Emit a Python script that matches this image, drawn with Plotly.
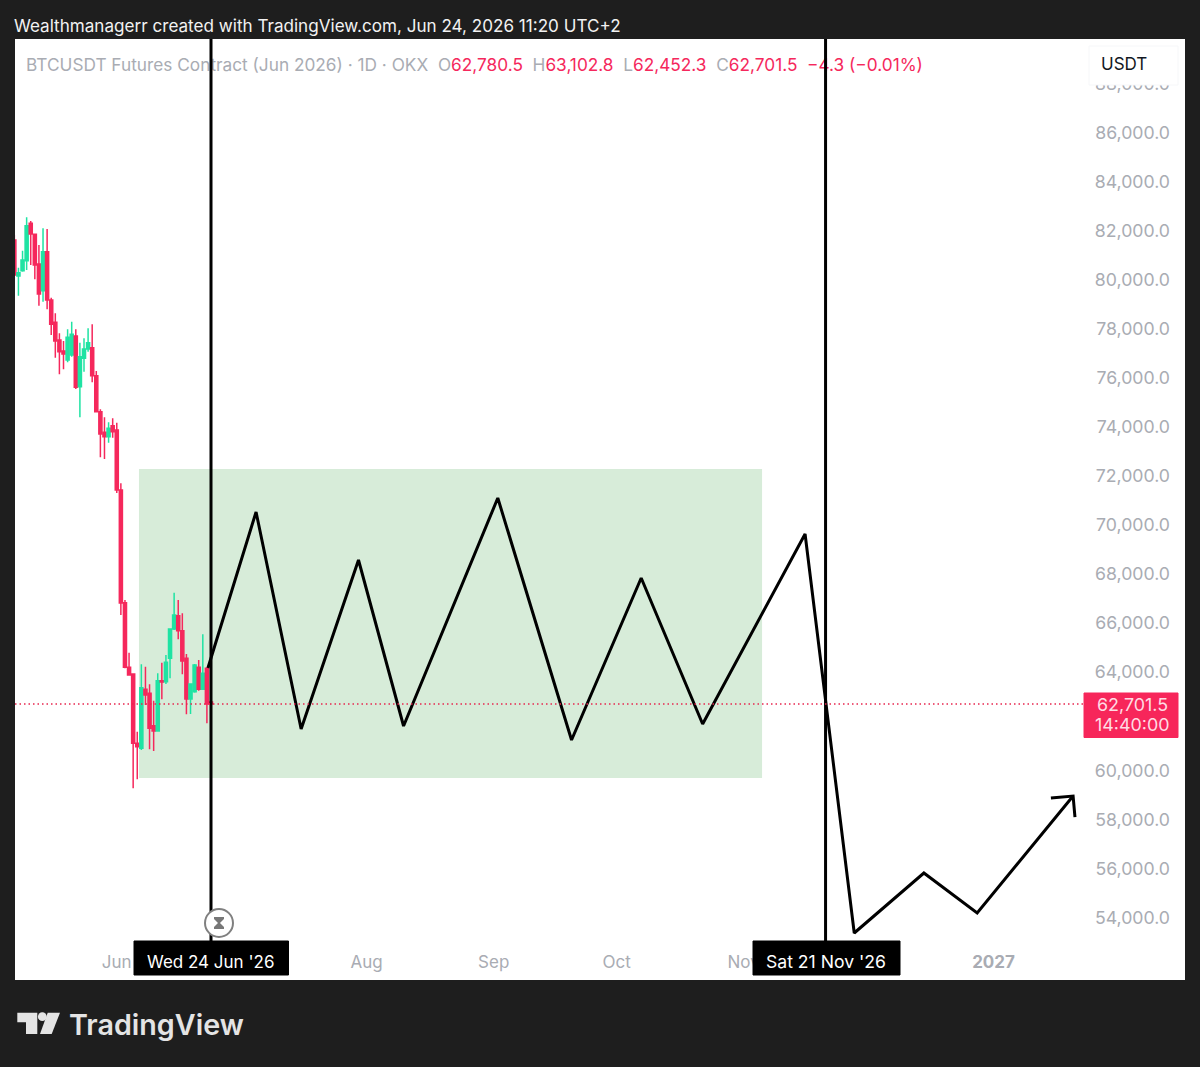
import plotly.graph_objects as go
import pandas as pd

# Daily BTCUSDT futures candles
first_day = "2026-05-07"
opens = [81617, 80150, 80367, 80775, 82297, 81848, 80639, 79552, 81142, 79172, 78261, 77541, 77093,
         76726, 76930, 77704, 75639, 76794, 77174, 77229, 76087, 74620, 73777, 73601, 74049,
         73872, 71426, 66834, 64198, 63926, 61100, 60896, 63301, 63138, 61820, 61603, 63654,
         63614, 64565, 65761, 66304, 65693, 64565, 62907, 63206, 64198, 63301, 64157, 62780.5]
highs = [81821, 80490, 81183, 82541, 82392, 81848, 81414, 82093, 82066, 79267, 78628, 77813, 77500,
         77976, 78288, 77976, 77432, 77609, 78017, 78180, 76277, 74715, 74389, 74185, 74348,
         74171, 71700, 66943, 64796, 63953, 61575, 64320, 64225, 63505, 62839, 63953, 64388,
         64701, 65788, 67242, 66943, 66399, 64741, 63519, 64334, 64497, 65543, 64198, 63102.8]
lows = [80150, 79348, 80327, 80395, 80598, 80014, 78941, 79104, 78791, 77745, 76821, 76141, 76345,
        76631, 76862, 75544, 74389, 76250, 77065, 75815, 74592, 72758, 72690, 73356, 73560,
        71300, 66331, 64157, 63885, 59265, 59632, 60828, 62662, 60855, 60787, 61603, 62893,
        63519, 63750, 65720, 65339, 63913, 62282, 62296, 63165, 63247, 63274, 61915, 62452.3]
closes = [80191, 80286, 80802, 82202, 81862, 80598, 79416, 81142, 79172, 78180, 77500, 77065, 76970,
          77650, 77772, 75612, 76862, 77174, 77432, 76087, 74620, 73709, 73601, 73940, 73804,
          71426, 66820, 64198, 63885, 61100, 60964, 63369, 63070, 61711, 61603, 63654, 63600,
          64402, 65761, 66331, 65693, 64456, 62907, 63519, 64293, 63301, 63953, 62705.8, 62701.5]
days = pd.date_range(first_day, periods=len(opens), freq="D").strftime("%Y-%m-%d").tolist()

# Projected path drawn on the chart
path_dates = ["2026-06-23 06:00", "2026-07-05", "2026-07-16", "2026-07-30", "2026-08-10", "2026-09-02",
              "2026-09-20", "2026-10-07", "2026-10-22", "2026-11-16", "2026-11-28", "2026-12-15",
              "2026-12-28", "2027-01-20 10:00"]
path_prices = [64170, 70530, 61684, 68573, 61806, 71100, 61235, 67839, 61888, 69633, 53368, 55813,
               54183, 58952]
arrow_dates = ["2027-01-15 00:00", "2027-01-20 10:00", "2027-01-20 21:00"]
arrow_prices = [58871, 58952, 58096]

# Range rectangle and marked dates
zone_dates = ["2026-06-06 10:00", "2026-11-05 12:00"]
zone_prices = [59686, 72283]
marker_dates = ["2026-06-24", "2026-11-21"]
marker_labels = ["Wed 24 Jun '26", "Sat 21 Nov '26"]
marker_bottom = 53041

# Axis settings
price_ticks = [54000, 56000, 58000, 60000, 64000, 66000, 68000, 70000, 72000, 74000, 76000,
               78000, 80000, 82000, 84000, 86000, 88000]
month_ticks = ["2026-06-01", "2026-08-01", "2026-09-01", "2026-10-01", "2026-11-01", "2027-01-01"]
month_labels = ["Jun", "Aug", "Sep", "Oct", "Nov", "<b>2027</b>"]
x_range = ["2026-05-07 03:50", "2027-02-16 17:31"]
y_range = [51452, 89812]

last_price = closes[-1]
UP, DOWN = "#1fe3a3", "#f5285c"
FONT = "Inter"
GREY = "#a9acb3"
L, R, T, B = 15, 1185, 39, 980


def px(x):
    return (x - L) / (R - L)


def py(y):
    return (B - y) / (B - T)


def rect(x0, y0, x1, y1, fill, line=None):
    return dict(type="rect", xref="paper", yref="paper", x0=px(x0), x1=px(x1), y0=py(y0), y1=py(y1),
                fillcolor=fill, line=dict(color=line or fill, width=1), layer="above")


def label(x, y, text, size=17, color=GREY, anchor="center", weight=400):
    return dict(xref="paper", yref="paper", x=px(x), y=py(y), text=text, showarrow=False,
                xanchor=anchor, yanchor="middle", borderpad=0,
                font=dict(family=FONT, size=size, color=color, weight=weight))


def poly(points, fill):
    d = "M" + " L".join(f"{px(x):.5f},{py(y):.5f}" for x, y in points) + " Z"
    return dict(type="path", xref="paper", yref="paper", path=d, fillcolor=fill,
                line=dict(width=0), layer="above")


fig = go.Figure()

fig.add_trace(go.Candlestick(
    x=days, open=opens, high=highs, low=lows, close=closes,
    increasing=dict(line=dict(color=UP, width=1.5), fillcolor=UP),
    decreasing=dict(line=dict(color=DOWN, width=1.5), fillcolor=DOWN),
    whiskerwidth=0, hoverinfo="skip", showlegend=False,
))

# Legend line with symbol and OHLC values
red = f'<span style="color:{DOWN}">'
header = (f'BTCUSDT Futures Contract (Jun 2026) · 1D · OKX  O{red}{opens[-1]:,.1f}</span>'
          f'  H{red}{highs[-1]:,.1f}</span>  L{red}{lows[-1]:,.1f}</span>'
          f'  C{red}{closes[-1]:,.1f}</span>  {red}−4.3 (−0.01%)</span>')
fig.add_trace(go.Scatter(
    x=["2026-05-09 20:24"], y=[88700], mode="text", text=[header], textposition="middle right",
    textfont=dict(family=FONT, size=17.25, color=GREY), hoverinfo="skip", showlegend=False,
))

fig.add_trace(go.Scatter(x=path_dates, y=path_prices, mode="lines", hoverinfo="skip", showlegend=False,
                         line=dict(color="#000000", width=3)))
fig.add_trace(go.Scatter(x=arrow_dates, y=arrow_prices, mode="lines", hoverinfo="skip", showlegend=False,
                         line=dict(color="#000000", width=3)))
for d in marker_dates:
    fig.add_trace(go.Scatter(x=[d, d], y=[y_range[1], marker_bottom], mode="lines", hoverinfo="skip",
                             showlegend=False, line=dict(color="#000000", width=3)))

shapes = [
    dict(type="rect", xref="x", yref="y", x0=zone_dates[0], x1=zone_dates[1], y0=zone_prices[0],
         y1=zone_prices[1], fillcolor="#d7ecd9", line=dict(width=0), layer="below"),
    dict(type="line", xref="paper", yref="y", x0=0, x1=px(1084), y0=last_price, y1=last_price,
         line=dict(color="#e8264f", width=1.5, dash="1.5px,3px"), layer="above"),
    rect(1089, 46, 1178, 85, "#ffffff", "#f6f7f9"),
    rect(1084, 693, 1178, 737.5, "#f7265a"),
    rect(134, 941, 288.5, 975, "#000000"),
    rect(753, 941, 900, 975, "#000000"),
    dict(type="circle", xref="paper", yref="paper", x0=px(205), x1=px(233), y0=py(909), y1=py(937),
         fillcolor="#ffffff", line=dict(color="#808080", width=2), layer="above"),
    poly([(214, 917), (224, 917), (224, 919), (220, 923), (224, 927), (224, 929), (214, 929),
          (214, 927), (218, 923), (214, 919)], "#777777"),
    # Brand mark in the footer
    poly([(17.3, 1012.7), (37.3, 1012.7), (37.3, 1034), (26, 1034), (26, 1022.3), (17.3, 1022.3)], "#e4e4e4"),
    poly([(47.7, 1012.7), (60, 1012.7), (51.7, 1034), (40, 1034)], "#e4e4e4"),
    dict(type="circle", xref="paper", yref="paper", x0=px(37.9), x1=px(46.7), y0=py(1012.3), y1=py(1021.1),
         fillcolor="#e4e4e4", line=dict(width=0), layer="above"),
]

annotations = [
    label(13, 25, "Wealthmanagerr created with TradingView.com, Jun 24, 2026 11:20 UTC+2", 17.1, "#f2f2f2", "left"),
    label(1100, 63.5, "USDT", 17, "#131722", "left"),
    label(1132.5, 704.5, f"{last_price:,.1f}", 17.9, "#ffdbe3"),
    label(1132.5, 724.5, "14:40:00", 17.9, "#ffdbe3"),
    label(211, 961.5, marker_labels[0], 17, "#ffffff"),
    label(826, 961.5, marker_labels[1], 17.6, "#ffffff"),
    label(68, 1024, "TradingView", 28.7, "#e4e4e4", "left", 600),
]

fig.update_layout(
    width=1200, height=1067,
    margin=dict(l=L, r=1200 - R, t=T, b=1067 - B, pad=0),
    paper_bgcolor="#1e1e1e", plot_bgcolor="#ffffff",
    font=dict(family=FONT, size=17, color=GREY),
    showlegend=False, boxgap=0.25, boxgroupgap=0, hovermode=False,
    shapes=shapes, annotations=annotations,
    xaxis=dict(type="date", range=x_range, rangeslider=dict(visible=False), showgrid=False, zeroline=False,
               showline=False, ticks="", tickmode="array", tickvals=month_ticks, ticktext=month_labels,
               ticklabelposition="inside", ticklabelstandoff=6, tickangle=0,
               tickfont=dict(family=FONT, size=17, color=GREY)),
    yaxis=dict(range=y_range, side="right", showgrid=False, zeroline=False, showline=False, ticks="",
               tickmode="array", tickvals=price_ticks, tickformat=",.1f",
               ticklabelposition="inside", ticklabelstandoff=12,
               tickfont=dict(family=FONT, size=17.7, color=GREY)),
)

fig.write_html("out.html")
